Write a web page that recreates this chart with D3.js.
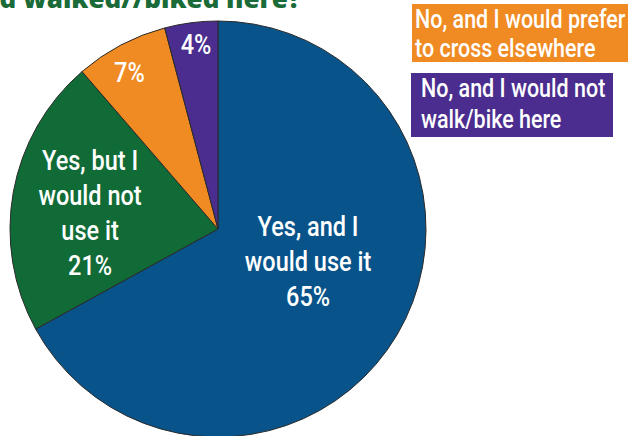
<!DOCTYPE html>
<html><head><meta charset="utf-8">
<script src="https://cdn.jsdelivr.net/npm/d3@7"></script>
<style>html,body{margin:0;padding:0;background:#fff;overflow:hidden}</style>
</head><body>
<svg id="c" width="628" height="436"></svg>
<script>
const categories = ["Yes, and I would use it", "Yes, but I would not use it", "No, and I would prefer to cross elsewhere", "No, and I would not walk/bike here"];
const values = [65, 21, 7, 4];
const sliceLabels = [["Yes, and I", "would use it", "65%"], ["Yes, but I", "would not", "use it", "21%"], ["7%"], ["4%"]];
const legendLabels = [null, null, ["No, and I would prefer", "to cross elsewhere"], ["No, and I would not", "walk/bike here"]];
const colors = ["#08538a", "#106b37", "#ef8b22", "#4a2d8e"];
const titleText = "Would you have used this crossing if you had walked//biked here?";

const svg = d3.select("#c");
const cx = 218, cy = 229, R = 208;
const SX = 0.84;
const font = "Roboto, 'Open Sans', sans-serif";

// title (cut off at top, as in the source)
svg.append("text").attr("x", 301).attr("y", 8).attr("text-anchor", "end")
  .attr("font-family", "'Open Sans', sans-serif").attr("font-weight", 800)
  .attr("font-size", 26).attr("fill", "#1a6b38").text(titleText);

const pie = d3.pie().sort(null).startAngle(0).endAngle(2 * Math.PI);
const arcs = pie(values);
const arc = d3.arc().innerRadius(0).outerRadius(R);
const g = svg.append("g").attr("transform", `translate(${cx},${cy})`);
g.selectAll("path").data(arcs).join("path")
  .attr("d", arc).attr("fill", (d, i) => colors[i])
  .attr("stroke", "#2a2a2a").attr("stroke-width", 1);

const labelLayout = [{r: 100, dx: 4, dy: -18, lh: 35}, {r: 130, dx: 0, dy: 7, lh: 35}, {r: 177, dx: -6, dy: 0, lh: 35}, {r: 186, dx: 2, dy: 0, lh: 35}];
const fs = 28, cap = 19;
arcs.forEach((a, i) => {
  const L = labelLayout[i];
  const c = d3.arc().innerRadius(L.r).outerRadius(L.r).centroid(a);
  const x = c[0] + L.dx, y = c[1] + L.dy;
  const lines = sliceLabels[i];
  lines.forEach((t, k) => {
    const by = y - (lines.length - 1) * L.lh / 2 + cap / 2 + k * L.lh;
    g.append("text").attr("transform", `translate(${x},${by}) scale(${SX},1)`)
      .attr("text-anchor", "middle").attr("font-family", font).attr("font-weight", 500)
      .attr("font-size", fs).attr("fill", "#fff").text(t);
  });
});

// legend boxes
const legendLayout = [null, null, {x: 412, y: 4, w: 220, h: 58, tx: 415, b: 28, lh: 29, fs: 25, sx: 0.86}, {x: 411, y: 73, w: 202, h: 64, tx: 421, b: 97, lh: 31, fs: 25, sx: 0.86}];
legendLabels.forEach((lab, i) => {
  if (!lab) return;
  const L = legendLayout[i];
  svg.append("rect").attr("x", L.x).attr("y", L.y).attr("width", L.w).attr("height", L.h).attr("fill", colors[i]);
  lab.forEach((t, k) => {
    svg.append("text").attr("transform", `translate(${L.tx},${L.b + k * L.lh}) scale(${L.sx},1)`)
      .attr("font-family", font).attr("font-weight", 500).attr("font-size", L.fs)
      .attr("fill", "#fff").text(t);
  });
});
</script>
</body></html>
